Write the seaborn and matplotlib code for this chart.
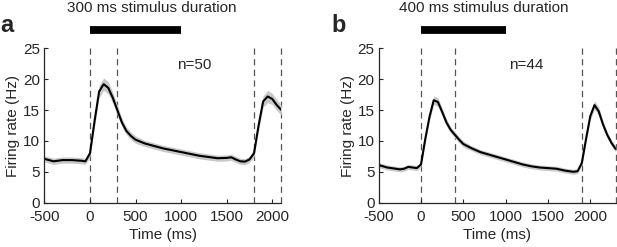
import numpy as np
import pandas as pd
import seaborn as sns
import matplotlib.pyplot as plt
plt.switch_backend('agg')

# ---------------- data ----------------
time_a = [-500, -450, -400, -350, -300, -250, -200, -150, -100, -50,
          0, 50, 100, 150, 200, 250, 300, 350, 400, 450, 500,
          600, 700, 800, 900, 1000, 1100, 1200, 1300, 1400, 1500, 1550,
          1600, 1650, 1700, 1750, 1800, 1850, 1900, 1950, 2000, 2050, 2100]
rate_a = [7.1, 6.9, 6.7, 6.8, 6.9, 6.9, 6.9, 6.85, 6.8, 6.7,
          8.0, 13.2, 18.0, 19.2, 18.6, 17.0, 15.0, 13.0, 11.6, 10.8, 10.2,
          9.6, 9.2, 8.8, 8.5, 8.2, 7.9, 7.6, 7.4, 7.2, 7.25, 7.35,
          7.0, 6.7, 6.65, 7.0, 8.0, 12.5, 16.4, 17.2, 16.8, 15.8, 15.0]
sem_a = [0.5, 0.5, 0.5, 0.5, 0.5, 0.5, 0.5, 0.5, 0.5, 0.5,
         0.6, 0.8, 1.0, 1.0, 1.0, 0.9, 0.8, 0.7, 0.6, 0.6, 0.6,
         0.5, 0.5, 0.5, 0.5, 0.5, 0.5, 0.5, 0.5, 0.5, 0.5, 0.5,
         0.5, 0.5, 0.5, 0.5, 0.6, 0.8, 0.9, 1.0, 0.9, 0.9, 0.8]

time_b = [-500, -450, -400, -350, -300, -250, -200, -150, -100, -50,
          0, 50, 100, 150, 200, 250, 300, 350, 400, 450, 500,
          600, 700, 800, 900, 1000, 1100, 1200, 1300, 1400, 1500,
          1600, 1700, 1800, 1850, 1900, 1950, 2000, 2050, 2100, 2150,
          2200, 2250, 2300]
rate_b = [6.1, 5.9, 5.7, 5.6, 5.5, 5.4, 5.5, 5.8, 5.7, 5.6,
          6.2, 10.3, 13.9, 16.6, 16.3, 14.7, 13.0, 11.8, 11.0, 10.2, 9.5,
          8.8, 8.2, 7.8, 7.4, 7.0, 6.6, 6.2, 5.9, 5.7, 5.6,
          5.5, 5.2, 5.0, 5.1, 6.4, 10.3, 14.0, 15.8, 14.8, 12.7,
          11.0, 9.7, 8.7]
sem_b = [0.4, 0.4, 0.4, 0.4, 0.4, 0.4, 0.4, 0.4, 0.4, 0.4,
         0.4, 0.5, 0.6, 0.7, 0.7, 0.6, 0.6, 0.5, 0.5, 0.5, 0.5,
         0.4, 0.4, 0.4, 0.4, 0.4, 0.4, 0.4, 0.4, 0.4, 0.4,
         0.4, 0.4, 0.4, 0.4, 0.4, 0.5, 0.6, 0.7, 0.7, 0.6,
         0.5, 0.5, 0.5]

titles = ['300 ms stimulus duration', '400 ms stimulus duration']
panel_labels = ['a', 'b']
n_labels = ['n=50', 'n=44']
epochs_a = [0, 300, 1800, 2100]
epochs_b = [0, 400, 1900, 2300]
stim_bar = [0, 1000]

FS = 11

sns.set_style('ticks')
plt.rcParams['font.family'] = ['Liberation Sans', 'DejaVu Sans']
plt.rcParams['font.size'] = FS
plt.rcParams['axes.unicode_minus'] = False


def psth_panel(ax, t, rate, sem, epochs, n_text, n_x):
    df = pd.DataFrame({'time': t, 'rate': rate, 'sem': sem})
    ax.fill_between(df['time'], df['rate'] - df['sem'], df['rate'] + df['sem'],
                    color='#c9c9c9', lw=0)
    sns.lineplot(data=df, x='time', y='rate', color='black', lw=1.5, ax=ax)
    for e in epochs:
        ax.axvline(e, color='#555555', lw=0.9, ls=(0, (5, 3.5)), zorder=0,
                   clip_on=False)
    # stimulus bar above the axes
    ax.plot(stim_bar, [27.9, 27.9], color='black', lw=5.6,
            solid_capstyle='butt', clip_on=False)
    ax.text(n_x, 22.3, n_text, ha='center', va='center', fontsize=FS)
    ax.set_xlim(-500, epochs[-1])
    ax.set_ylim(0, 25)
    ax.set_xticks([-500, 0, 500, 1000, 1500, 2000])
    ax.set_yticks([0, 5, 10, 15, 20, 25])
    ax.set_xlabel('Time (ms)', fontsize=FS, labelpad=3)
    ax.set_ylabel('Firing rate (Hz)', fontsize=FS, labelpad=2)
    ax.tick_params(direction='in', length=3, width=0.8, labelsize=FS)
    ax.tick_params(axis='x', pad=5.5)
    ax.tick_params(axis='y', pad=3)
    for s in ['left', 'bottom']:
        ax.spines[s].set_linewidth(0.9)
    sns.despine(ax=ax)


fig = plt.figure(figsize=(6.17, 2.47), dpi=100)
ax_a = fig.add_axes([0.072, 0.1794, 0.384, 0.625])
ax_b = fig.add_axes([0.6138, 0.1794, 0.384, 0.625])

psth_panel(ax_a, time_a, rate_a, sem_a, epochs_a, n_labels[0], 1142)
psth_panel(ax_b, time_b, rate_b, sem_b, epochs_b, n_labels[1], 1240)

fig.text(152 / 617, 1 - 8 / 247, titles[0], ha='center', va='center', fontsize=FS)
fig.text(484 / 617, 1 - 8 / 247, titles[1], ha='center', va='center', fontsize=FS)
fig.text(7 / 617, 1 - 26 / 247, panel_labels[0], ha='center', va='center',
         fontsize=17, fontweight='bold')
fig.text(339 / 617, 1 - 25 / 247, panel_labels[1], ha='center', va='center',
         fontsize=17, fontweight='bold')

fig.savefig('out.png', dpi=100)
